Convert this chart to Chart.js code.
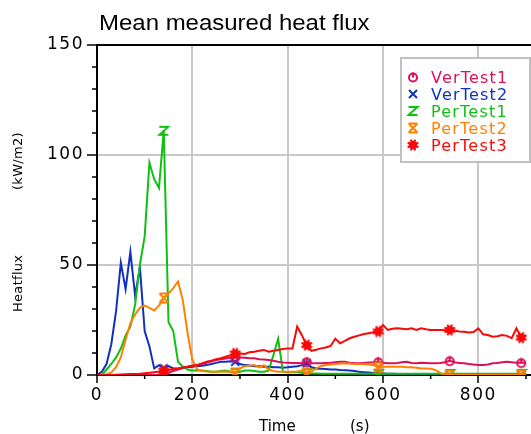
<!DOCTYPE html>
<html>
<head>
<meta charset="utf-8">
<script src="https://cdn.jsdelivr.net/npm/chart.js@4/dist/chart.umd.min.js"></script>
<style>
  html, body { margin: 0; padding: 0; background: #fff; }
  #wrap { width: 531px; height: 434px; overflow: hidden; position: relative; }
  canvas { display: block; }
</style>
</head>
<body>
<div id="wrap"><canvas id="c" width="600" height="434"></canvas></div>
<script>
// ---- data (time in s, heat flux in kW/m2) ----
const times = [];
for (let t = 0; t <= 900; t += 10) times.push(t);

const labels = ['VerTest1', 'VerTest2', 'PerTest1', 'PerTest2', 'PerTest3'];
const xTicks = [0, 200, 400, 600, 800, 1000];
const yTicks = [0, 50, 100, 150];

const verTest1 = [0,0,0,0,0,0,0,0,0,0, 0,0,0,0,0.3,1,1.8,2.5,3.2,3.8,
  4.2,4.6,5,5.6,6.2,6.8,7.1,7.5,7.8,8, 8,7.8,7.6,7.6,7.2,7,6.8,6.5,6,5.7,
  5.6,5.5,5.4,5.3,6,5.5,5.3,5.3,5.5,5.6, 5.8,6,6,5.6,5.4,5.3,5.5,5.7,5.8,6,
  5.6,5.3,5.3,5.5,5.8,6,5.5,5.3,5.6,5.5, 5.3,5.3,5.5,5.8,6.5,5.8,5.4,5.3,5,4.8,
  4.5,4.6,4.8,5.3,5.5,5.8,6,5.8,5.6,5.6, 5.6];

const verTest2 = [0,1.5,5,14,29,51,39,56,36,49, 20,13,3,4.5,3,4,3,3,3.2,3.5,
  3.8,4,4.2,4.5,5,5.5,6,6,6.2,6, 5,4.5,4.3,4,4,3.8,3.8,3.5,3.5,3.3,
  3.5,3.8,4,4.5,5.3,3.5,3,2.8,2.7,2.5, 2.5,2.3,2.2,2,1.8,1.5,1.3,1.1,0.9,0.8,
  0.7,0.6,0.6,0.5,0.5,0.5,0.4,0,0,0, 0,0,0,0,0,0,0,0,0,0,
  0,0,0,0,0,0,0,0,0,0, 0];

const perTest1 = [0,0,2.5,5,8,12,18,22,32,50, 63,96.5,89,85,111,24,20,6,3.8,2.5,
  2,2,2,1.8,1.5,1.5,1.8,2,1.5,1, 1.5,2,2,1.8,1.5,1.5,2,9,16.5,1.5,
  1.3,1.2,1.2,1,0.8,0.7,0.7,0.6,0.6,0.6, 0.6,0.6,0.6,0.6,0.6,0.6,0.6,0.6,0.6,0.5,
  0.6,0.6,0.6,0.6,0.6,0.6,0.6,0.6,0.6,0.6, 0.6,0.6,0.6,0.6,0.5,0.6,0.6,0.6,0.6,0.6,
  0.6,0.6,0.6,0.6,0.6,0.6,0.6,0.6,0.6,0.5, 0.6];

const perTest2 = [0,0,0.3,1.2,3.5,8,16,23.5,27.5,30.5, 31.5,30.5,29.3,31.5,35,37,39.5,42.5,34,19,
  7,2.5,1.8,1.6,1.5,1.5,1.5,1.6,1.5,0.8, 3,4,4.2,4.5,3.5,4.5,2.5,1.8,1.5,1.5,
  1.5,1.5,1.6,2,0.8,1.5,3,4,4.5,4.8, 5,5.2,5.3,5.2,5,5,5,4.8,4.5,3.5,
  3.8,3.8,3.8,3.8,3.8,3.5,3.5,3.3,3,3, 2.8,2.3,1,0,0,0,0,0,0,0,
  0,0,0,0,0,0,0,0,0,0, 0];

const perTest3 = [0,0,0,0,0.1,0.2,0.3,0.4,0.5,0.6, 0.8,1,1.3,1.6,2,2.3,2.7,3,3.4,3.8,
  4.2,4.5,5.3,6,6.5,7.2,7.6,8.3,9,9.8, 9.8,9.6,10.3,10.6,11,11.4,10.6,11,11.4,11.8,
  12.1,12.1,22,18,13.6,11,11.5,12.1,12.5,13.2, 16.5,14.4,15.5,16.7,17.4,18,18.6,19,19.4,19.8,
  22.7,20.5,21,21.2,21,20.8,21.2,20.5,21.2,20.8, 20.5,20.5,20.5,20.3,20.5,20.2,19.8,19.7,19.3,19.5,
  21.2,18.5,18.2,17.4,17.6,18.2,17.8,16.7,21.2,17, 18];

const markerTimes = [140, 290, 440, 590, 740, 890];

// ---- marker glyphs ----
function makeMarker(kind, color) {
  const c = document.createElement('canvas');
  c.width = 14; c.height = 14;
  const g = c.getContext('2d');
  g.strokeStyle = color; g.fillStyle = color; g.lineWidth = 2;
  g.translate(7, 7);
  g.beginPath();
  if (kind === 'circle') {
    g.arc(0, 0.5, 4, 0, Math.PI * 2); g.stroke();
    g.beginPath(); g.moveTo(0, -4.5); g.lineTo(0, 0.5); g.stroke();
  } else if (kind === 'x') {
    g.moveTo(-4, -4); g.lineTo(4, 4); g.moveTo(4, -4); g.lineTo(-4, 4); g.stroke();
  } else if (kind === 'z') {
    g.moveTo(-4.5, -4); g.lineTo(4.5, -4); g.lineTo(-4.5, 4); g.lineTo(4.5, 4); g.stroke();
  } else if (kind === 'hourglass') {
    g.moveTo(-4.5, -4.5); g.lineTo(4.5, -4.5);
    g.moveTo(-4.5, 4.5); g.lineTo(4.5, 4.5);
    g.moveTo(-4, -4); g.lineTo(4, 4);
    g.moveTo(4, -4); g.lineTo(-4, 4); g.stroke();
  } else if (kind === 'star') {
    g.arc(0, 0, 4.2, 0, Math.PI * 2); g.fill();
    g.beginPath();
    for (let k = 0; k < 8; k++) {
      const a = k * Math.PI / 4 + Math.PI / 8;
      g.moveTo(0, 0); g.lineTo(Math.cos(a) * 5.8, Math.sin(a) * 5.8);
    }
    g.stroke();
  }
  return c;
}

const colors = ['#dc1058', '#1030c0', '#10c010', '#ff8000', '#f80808'];
const kinds = ['circle', 'x', 'z', 'hourglass', 'star'];
const series = [verTest1, verTest2, perTest1, perTest2, perTest3];
const orders = [3, 5, 4, 2, 1];

const datasets = series.map((arr, i) => ({
  label: labels[i],
  data: times.map((t, j) => ({ x: t, y: arr[j] })),
  borderColor: colors[i],
  backgroundColor: colors[i],
  borderWidth: 2,
  tension: 0,
  pointStyle: makeMarker(kinds[i], colors[i]),
  pointRadius: (c) => markerTimes.includes(times[c.dataIndex]) ? 5 : 0,
  pointHoverRadius: 0,
  order: orders[i]
}));

const FONT = 'DejaVu Sans';

const decor = {
  id: 'decor',
  beforeDraw(chart) {
    chart.ctx.letterSpacing = '1.5px';
  },
  afterDraw(chart) {
    const ctx = chart.ctx;
    const a = chart.chartArea;
    const xs = chart.scales.x, ys = chart.scales.y;
    ctx.save();
    ctx.letterSpacing = '0px';
    // top border
    ctx.strokeStyle = '#000'; ctx.lineWidth = 2;
    ctx.beginPath(); ctx.moveTo(a.left - 1, a.top); ctx.lineTo(a.right, a.top); ctx.stroke();
    // minor ticks
    ctx.lineWidth = 1.5;
    ctx.beginPath();
    for (let v = 100; v < 1000; v += 200) {
      const px = xs.getPixelForValue(v);
      ctx.moveTo(px, a.bottom); ctx.lineTo(px, a.bottom + 4);
    }
    for (let v = 10; v < 150; v += 10) {
      if (v % 50 === 0) continue;
      const py = ys.getPixelForValue(v);
      ctx.moveTo(a.left - 5, py); ctx.lineTo(a.left, py);
    }
    ctx.stroke();

    // title
    ctx.fillStyle = '#000';
    ctx.font = '22px "Liberation Sans", Arial, sans-serif';
    ctx.textBaseline = 'alphabetic'; ctx.textAlign = 'left';
    ctx.save(); ctx.translate(99, 30); ctx.scale(1.09, 1);
    ctx.fillText('Mean measured heat flux', 0, 0);
    ctx.restore();

    // x axis title
    ctx.font = '15px "' + FONT + '"';
    ctx.letterSpacing = '0px';
    ctx.fillText('Time', 259, 431);
    ctx.fillText('(s)', 350, 431);

    // y axis title (rotated)
    ctx.font = '13px "' + FONT + '"';
    ctx.letterSpacing = '0.3px';
    ctx.save(); ctx.translate(22, 312); ctx.rotate(-Math.PI / 2);
    ctx.fillText('Heatflux', 0, 0); ctx.restore();
    ctx.save(); ctx.translate(22, 190); ctx.rotate(-Math.PI / 2);
    ctx.fillText('(kW/m2)', 0, 0); ctx.restore();

    // legend
    const lx = 401, ly = 58, lw = 129, lh = 104;
    ctx.fillStyle = '#fff'; ctx.fillRect(lx, ly, lw, lh);
    ctx.strokeStyle = '#c0c0c0'; ctx.lineWidth = 2; ctx.strokeRect(lx, ly, lw, lh);
    ctx.font = '16px "' + FONT + '"';
    ctx.letterSpacing = '1.2px';
    chart.data.datasets.forEach((ds, i) => {
      const cy = 77 + i * 17;
      ctx.drawImage(ds.pointStyle, 413 - 7, cy - 7);
      ctx.fillStyle = ds.borderColor;
      ctx.fillText(ds.label, 431, cy + 6);
    });
    ctx.restore();
  }
};

const gridColor = '#c8c8c8';

new Chart(document.getElementById('c'), {
  type: 'line',
  data: { datasets },
  plugins: [decor],
  options: {
    responsive: false,
    animation: false,
    devicePixelRatio: 1,
    layout: { padding: { left: 0, right: 16, top: 45, bottom: 0 } },
    plugins: { legend: { display: false }, title: { display: false }, tooltip: { enabled: false } },
    scales: {
      x: {
        type: 'linear', min: 0, max: 1000,
        afterBuildTicks: (s) => { s.ticks = xTicks.map(v => ({ value: v })); },
        afterFit: (s) => { s.height = 59; },
        ticks: { color: '#000', font: { family: FONT, size: 17 }, padding: 2, maxRotation: 0, autoSkip: false },
        grid: {
          color: (c) => (c.tick && c.tick.value > 0 && c.tick.value < 1000) ? gridColor : 'rgba(0,0,0,0)',
          lineWidth: 2, tickColor: '#000', tickWidth: 1.5, tickLength: 8
        },
        border: { color: '#000', width: 2 }
      },
      y: {
        min: 0, max: 150,
        afterBuildTicks: (s) => { s.ticks = yTicks.map(v => ({ value: v })); },
        afterFit: (s) => { s.width = 97; },
        ticks: { color: '#000', font: { family: FONT, size: 17 }, padding: 3 },
        grid: {
          color: (c) => (c.tick && c.tick.value > 0 && c.tick.value < 150) ? gridColor : 'rgba(0,0,0,0)',
          lineWidth: 2, tickColor: '#000', tickWidth: 1.5, tickLength: 10
        },
        border: { color: '#000', width: 2 }
      }
    }
  }
});
</script>
</body>
</html>
